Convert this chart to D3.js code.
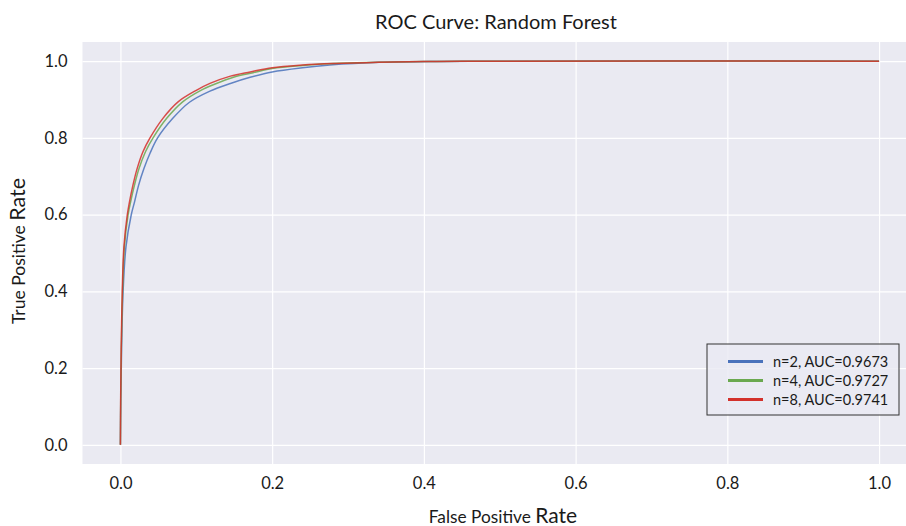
<!DOCTYPE html>
<html>
<head>
<meta charset="utf-8">
<script src="https://cdn.jsdelivr.net/npm/d3@7"></script>
<style>
    body { margin: 0; background: #fff; }
    text { font-family: Lato, 'Open Sans', sans-serif; fill: #1a1a1a; }
</style>
</head>
<body>
<svg width="906" height="526"></svg>
<script>
let xTicks = [0, 0.2, 0.4, 0.6, 0.8, 1.0];
let yTicks = [0, 0.2, 0.4, 0.6, 0.8, 1.0];

let fpr2 = [0, 0.0005, 0.0015, 0.0035, 0.0073, 0.0142, 0.0187, 0.024, 0.031, 0.039, 0.049, 0.069, 0.091, 0.118, 0.145, 0.171, 0.20, 0.24, 0.276, 0.342, 0.408, 0.46, 1.0];
let tpr2 = [0, 0.12, 0.25, 0.40, 0.516, 0.599, 0.634, 0.677, 0.72, 0.76, 0.80, 0.851, 0.893, 0.922, 0.942, 0.958, 0.972, 0.983, 0.990, 0.997, 0.999, 1.0, 1.0];

let fpr4 = [0, 0.0004, 0.0012, 0.0028, 0.0052, 0.0100, 0.0135, 0.0185, 0.0245, 0.033, 0.043, 0.061, 0.082, 0.106, 0.124, 0.150, 0.175, 0.20, 0.24, 0.28, 0.34, 0.40, 0.45, 1.0];
let tpr4 = [0, 0.12, 0.25, 0.40, 0.516, 0.599, 0.634, 0.677, 0.72, 0.764, 0.80, 0.851, 0.894, 0.924, 0.940, 0.959, 0.970, 0.981, 0.989, 0.994, 0.997, 0.999, 1.0, 1.0];

let fpr8 = [0, 0.0003, 0.001, 0.0024, 0.0046, 0.009, 0.012, 0.0165, 0.022, 0.0297, 0.039, 0.056, 0.076, 0.100, 0.118, 0.145, 0.171, 0.20, 0.24, 0.28, 0.34, 0.40, 0.45, 1.0];
let tpr8 = [0, 0.12, 0.25, 0.40, 0.516, 0.599, 0.634, 0.677, 0.72, 0.764, 0.80, 0.851, 0.894, 0.924, 0.942, 0.961, 0.972, 0.983, 0.990, 0.994, 0.997, 0.999, 1.0, 1.0];

let labels = ['n=2, AUC=0.9673', 'n=4, AUC=0.9727', 'n=8, AUC=0.9741'];
let colors = ['#4a72bb', '#6aa84f', '#d3312b'];

let svg = d3.select('svg');

let x = d3.scaleLinear().domain([-0.05, 1.05]).range([82.5, 917]);
let y = d3.scaleLinear().domain([-0.05, 1.05]).range([464, 42]);

let series = [
    d3.zip(fpr2, tpr2),
    d3.zip(fpr4, tpr4),
    d3.zip(fpr8, tpr8)
];

svg.append('rect')
    .attr('x', x(-0.05))
    .attr('y', y(1.05))
    .attr('width', x(1.05) - x(-0.05))
    .attr('height', y(-0.05) - y(1.05))
    .attr('fill', '#eaeaf2');

// grid
svg.append('g')
    .attr('transform', `translate(0,${y(-0.05)})`)
    .call(d3.axisBottom(x).tickValues(xTicks).tickSize(-(y(-0.05) - y(1.05))).tickFormat(''))
    .call(g => g.select('.domain').remove())
    .call(g => g.selectAll('line').attr('stroke', '#fff').attr('stroke-width', 1.2));

svg.append('g')
    .attr('transform', `translate(${x(-0.05)},0)`)
    .call(d3.axisLeft(y).tickValues(yTicks).tickSize(-(x(1.05) - x(-0.05))).tickFormat(''))
    .call(g => g.select('.domain').remove())
    .call(g => g.selectAll('line').attr('stroke', '#fff').attr('stroke-width', 1.2));

// tick labels
svg.append('g')
    .attr('transform', `translate(0,${y(-0.05)})`)
    .call(d3.axisBottom(x).tickValues(xTicks).tickSize(0).tickPadding(13).tickFormat(d3.format('.1f')))
    .call(g => g.select('.domain').remove())
    .call(g => g.selectAll('text').attr('font-size', 16.5).attr('fill', '#1a1a1a')
        .style('font-family', 'Lato, sans-serif'));

svg.append('g')
    .attr('transform', `translate(${x(-0.05)},0)`)
    .call(d3.axisLeft(y).tickValues(yTicks).tickSize(0).tickPadding(15).tickFormat(d3.format('.1f')))
    .call(g => g.select('.domain').remove())
    .call(g => g.selectAll('text').attr('font-size', 16.5).attr('fill', '#1a1a1a')
        .style('font-family', 'Lato, sans-serif'));

let line = d3.line()
    .x(d => x(d[0]))
    .y(d => y(d[1]))
    .curve(d3.curveCatmullRom.alpha(0.5));

svg.append('g')
    .selectAll('path')
    .data(series)
    .enter().append('path')
    .attr('d', line)
    .attr('fill', 'none')
    .attr('stroke', (d, i) => colors[i])
    .attr('stroke-width', 1.5)
    .attr('stroke-opacity', 0.85);

// title and axis labels
svg.append('text')
    .attr('x', 496)
    .attr('y', 29)
    .attr('text-anchor', 'middle')
    .attr('font-size', 20)
    .text('ROC Curve: Random Forest');

let xl = svg.append('text')
    .attr('x', 503)
    .attr('y', 523)
    .attr('text-anchor', 'middle');
xl.append('tspan').attr('font-size', 17.3).text('False Positive ');
xl.append('tspan').attr('font-size', 21).text('Rate');

let yl = svg.append('text')
    .attr('transform', 'translate(25,251) rotate(-90)')
    .attr('text-anchor', 'middle');
yl.append('tspan').attr('font-size', 17.5).text('True Positive ');
yl.append('tspan').attr('font-size', 21.5).text('Rate');

// legend
let legend = svg.append('g').attr('transform', 'translate(707,344)');
legend.append('rect')
    .attr('width', 192)
    .attr('height', 71)
    .attr('fill', '#eaeaf2')
    .attr('fill-opacity', 0.8)
    .attr('stroke', '#333')
    .attr('stroke-width', 1);

let item = legend.selectAll('g.item')
    .data(labels)
    .enter().append('g')
    .attr('class', 'item')
    .attr('transform', (d, i) => `translate(0,${17.5 + i * 19})`);

item.append('line')
    .attr('x1', 21).attr('x2', 56)
    .attr('stroke', (d, i) => colors[i])
    .attr('stroke-width', 3);

item.append('text')
    .attr('x', 66)
    .attr('dy', '0.35em')
    .attr('font-size', 14.5)
    .text(d => d);
</script>
</body>
</html>
